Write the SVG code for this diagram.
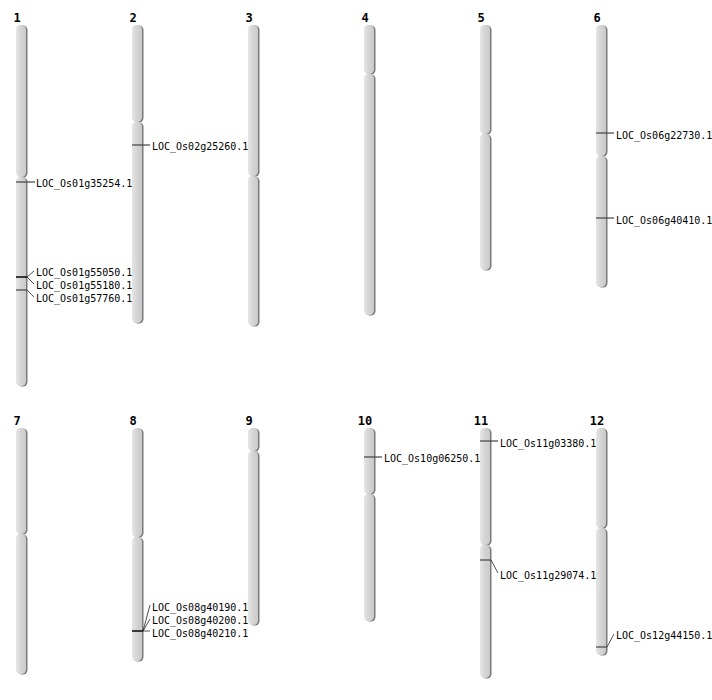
<svg xmlns="http://www.w3.org/2000/svg" width="712" height="700" viewBox="0 0 712 700">
<defs>
<linearGradient id="g" x1="0" y1="0" x2="1" y2="0">
<stop offset="0" stop-color="#e6e6e6"/>
<stop offset="0.5" stop-color="#d4d4d4"/>
<stop offset="1" stop-color="#cacaca"/>
</linearGradient>
</defs>
<style>
.sh{fill:#7a7a7a}
.bd{fill:url(#g)}
.num{font-family:"DejaVu Sans Mono",monospace;font-weight:bold;font-size:12px;text-anchor:middle;fill:#000}
.lb{font-family:"DejaVu Sans Mono",monospace;font-size:10px;fill:#000}
.mk{stroke:#444;stroke-width:1.2;fill:none}
.mk2{stroke:#111;stroke-width:1.6;fill:none}
.ld{stroke:#222;stroke-width:0.8;fill:none}
</style>
<rect width="712" height="700" fill="#fff"/>

<g id="chr1">
<text class="num" x="17" y="22">1</text>
<rect class="sh" x="17.5" y="25.5" width="10" height="152" rx="4.5"/>
<rect class="bd" x="16" y="25" width="10" height="152" rx="4.5"/>
<rect class="sh" x="17.5" y="177.5" width="10" height="209" rx="4.5"/>
<rect class="bd" x="16" y="177" width="10" height="209" rx="4.5"/>
</g>
<g id="chr2">
<text class="num" x="133" y="22">2</text>
<rect class="sh" x="133.5" y="25.5" width="10" height="97" rx="4.5"/>
<rect class="bd" x="132" y="25" width="10" height="97" rx="4.5"/>
<rect class="sh" x="133.5" y="122.5" width="10" height="201" rx="4.5"/>
<rect class="bd" x="132" y="122" width="10" height="201" rx="4.5"/>
</g>
<g id="chr3">
<text class="num" x="249" y="22">3</text>
<rect class="sh" x="249.5" y="25.5" width="10" height="151" rx="4.5"/>
<rect class="bd" x="248" y="25" width="10" height="151" rx="4.5"/>
<rect class="sh" x="249.5" y="176.5" width="10" height="150" rx="4.5"/>
<rect class="bd" x="248" y="176" width="10" height="150" rx="4.5"/>
</g>
<g id="chr4">
<text class="num" x="365" y="22">4</text>
<rect class="sh" x="365.5" y="25.5" width="10" height="49" rx="4.5"/>
<rect class="bd" x="364" y="25" width="10" height="49" rx="4.5"/>
<rect class="sh" x="365.5" y="74.5" width="10" height="241" rx="4.5"/>
<rect class="bd" x="364" y="74" width="10" height="241" rx="4.5"/>
</g>
<g id="chr5">
<text class="num" x="481" y="22">5</text>
<rect class="sh" x="481.5" y="25.5" width="10" height="109" rx="4.5"/>
<rect class="bd" x="480" y="25" width="10" height="109" rx="4.5"/>
<rect class="sh" x="481.5" y="134.5" width="10" height="136" rx="4.5"/>
<rect class="bd" x="480" y="134" width="10" height="136" rx="4.5"/>
</g>
<g id="chr6">
<text class="num" x="597" y="22">6</text>
<rect class="sh" x="597.5" y="25.5" width="10" height="131" rx="4.5"/>
<rect class="bd" x="596" y="25" width="10" height="131" rx="4.5"/>
<rect class="sh" x="597.5" y="156.5" width="10" height="131" rx="4.5"/>
<rect class="bd" x="596" y="156" width="10" height="131" rx="4.5"/>
</g>

<g id="chr7">
<text class="num" x="17" y="425">7</text>
<rect class="sh" x="17.5" y="428.5" width="10" height="106" rx="4.5"/>
<rect class="bd" x="16" y="428" width="10" height="106" rx="4.5"/>
<rect class="sh" x="17.5" y="534.5" width="10" height="140" rx="4.5"/>
<rect class="bd" x="16" y="534" width="10" height="140" rx="4.5"/>
</g>
<g id="chr8">
<text class="num" x="133" y="425">8</text>
<rect class="sh" x="133.5" y="428.5" width="10" height="109" rx="4.5"/>
<rect class="bd" x="132" y="428" width="10" height="109" rx="4.5"/>
<rect class="sh" x="133.5" y="537.5" width="10" height="124" rx="4.5"/>
<rect class="bd" x="132" y="537" width="10" height="124" rx="4.5"/>
</g>
<g id="chr9">
<text class="num" x="249" y="425">9</text>
<rect class="sh" x="249.5" y="428.5" width="10" height="23" rx="4.5"/>
<rect class="bd" x="248" y="428" width="10" height="23" rx="4.5"/>
<rect class="sh" x="249.5" y="451.5" width="10" height="174" rx="4.5"/>
<rect class="bd" x="248" y="451" width="10" height="174" rx="4.5"/>
</g>
<g id="chr10">
<text class="num" x="365" y="425">10</text>
<rect class="sh" x="365.5" y="428.5" width="10" height="66" rx="4.5"/>
<rect class="bd" x="364" y="428" width="10" height="66" rx="4.5"/>
<rect class="sh" x="365.5" y="494.5" width="10" height="127" rx="4.5"/>
<rect class="bd" x="364" y="494" width="10" height="127" rx="4.5"/>
</g>
<g id="chr11">
<text class="num" x="481" y="425">11</text>
<rect class="sh" x="481.5" y="428.5" width="10" height="117" rx="4.5"/>
<rect class="bd" x="480" y="428" width="10" height="117" rx="4.5"/>
<rect class="sh" x="481.5" y="545.5" width="10" height="133" rx="4.5"/>
<rect class="bd" x="480" y="545" width="10" height="133" rx="4.5"/>
</g>
<g id="chr12">
<text class="num" x="597" y="425">12</text>
<rect class="sh" x="597.5" y="428.5" width="10" height="100" rx="4.5"/>
<rect class="bd" x="596" y="428" width="10" height="100" rx="4.5"/>
<rect class="sh" x="597.5" y="528.5" width="10" height="127" rx="4.5"/>
<rect class="bd" x="596" y="528" width="10" height="127" rx="4.5"/>
</g>

<g id="connectors">
<path class="mk" d="M16 182H35"/>
<path class="mk2" d="M16 277H27"/>
<path class="mk" d="M16 290H27"/>
<path class="ld" d="M27 277L34 271M27 277L34 284M27 290L34 297"/>
<path class="mk" d="M132 145H150"/>
<path class="mk" d="M596 133H614"/>
<path class="mk" d="M596 218H614"/>
<path class="mk" d="M364 457H382"/>
<path class="mk" d="M480 441H498"/>
<path class="mk" d="M480 560H491"/>
<path class="ld" d="M491 560L498 573"/>
<path class="mk" d="M596 647H607"/>
<path class="ld" d="M607 647L614 634"/>
<path class="mk2" d="M132 631H143"/>
<path class="ld" d="M143 631L150 605M143 631L150 619M143 631H150"/>
</g>

<g id="labels">
<text class="lb" x="36" y="186.5">LOC_Os01g35254.1</text>
<text class="lb" x="36" y="275.5">LOC_Os01g55050.1</text>
<text class="lb" x="36" y="288.5">LOC_Os01g55180.1</text>
<text class="lb" x="36" y="301.5">LOC_Os01g57760.1</text>
<text class="lb" x="152" y="149.5">LOC_Os02g25260.1</text>
<text class="lb" x="616" y="138.5">LOC_Os06g22730.1</text>
<text class="lb" x="616" y="223.5">LOC_Os06g40410.1</text>
<text class="lb" x="384" y="461.5">LOC_Os10g06250.1</text>
<text class="lb" x="500" y="446.5">LOC_Os11g03380.1</text>
<text class="lb" x="500" y="578.5">LOC_Os11g29074.1</text>
<text class="lb" x="616" y="638.5">LOC_Os12g44150.1</text>
<text class="lb" x="152" y="610.5">LOC_Os08g40190.1</text>
<text class="lb" x="152" y="623.5">LOC_Os08g40200.1</text>
<text class="lb" x="152" y="636.5">LOC_Os08g40210.1</text>
</g>
</svg>
